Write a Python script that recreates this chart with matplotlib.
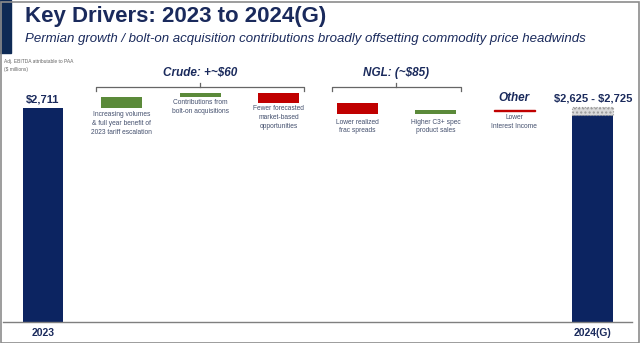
import matplotlib
matplotlib.use("Agg")
import matplotlib.pyplot as plt
from matplotlib.transforms import blended_transform_factory
from matplotlib.patches import Rectangle
from matplotlib.lines import Line2D

plt.rcParams['font.family'] = ['Liberation Sans', 'DejaVu Sans']

# ---- data ----
categories = ["2023", "Increasing volumes\n& full year benefit of\n2023 tariff escalation",
              "Contributions from\nbolt-on acquisitions",
              "Fewer forecasted\nmarket-based\nopportunities",
              "Lower realized\nfrac spreads", "Higher C3+ spec\nproduct sales",
              "Lower\nInterest Income", "2024(G)"]
start_value = 2711
changes = [140, 50, -130, -135, 50, -10]
guide_low = 2625
guide_high = 2725
group_labels = ["Crude: +~\\$60", "NGL: (~\\$85)", "Other"]
group_members = [(1, 3), (4, 5), (6, 6)]

NAVY = "#0c2461"
GREEN = "#5b8a3a"
RED = "#c00000"
TXT = "#1a2a5c"
SUB = "#44506e"

W, H = 640, 343
fig = plt.figure(figsize=(6.4, 3.43), dpi=100)

def fy(y):
    return 1 - y / H

ax = fig.add_axes([3 / W, 21 / H, 629 / W, 262 / H])
ymax = 262 * (start_value / 214.0)
ax.set_ylim(0, ymax)
ax.set_xlim(-0.51, 7.5)
for s in ["top", "right", "left"]:
    ax.spines[s].set_visible(False)
ax.spines["bottom"].set_color("#7f7f7f")
ax.spines["bottom"].set_linewidth(1.0)
ax.set_yticks([])
ax.set_xticks([0, 7])
ax.set_xticklabels([categories[0], categories[7]], fontsize=7.5, fontweight="bold", color=TXT)
ax.tick_params(axis="x", length=0, pad=4)

bw = 0.52
# starting bar
ax.bar(0, start_value, width=bw, color=NAVY)
# waterfall steps
level = start_value
for i, c in enumerate(changes):
    x = i + 1
    color = GREEN if c > 0 else RED
    if i == len(changes) - 1:
        ax.bar(x, c, bottom=level, width=bw, color=color, edgecolor=color, linewidth=1.0)
    else:
        ax.bar(x, c, bottom=level, width=bw, color=color)
    level += c
# end bar
ax.bar(7, guide_low, width=bw, color=NAVY)
ax.bar(7, guide_high - guide_low, bottom=guide_low, width=bw, color="#d9d9d9",
       edgecolor="#9a9a9a", linestyle=":", linewidth=0.8, hatch="....")

# value labels
ax.text(0, start_value + 40, f"\\${start_value:,}", ha="center", va="bottom",
        fontsize=8, fontweight="bold", color=TXT)
ax.text(7, guide_high + 45, f"\\${guide_low:,} - \\${guide_high:,}", ha="center", va="bottom",
        fontsize=8, fontweight="bold", color=TXT)

tr = blended_transform_factory(ax.transData, fig.transFigure)

# step description labels (y of first line centre, in pixels)
label_y = [None, 115, 103, 109, 122, 122, 118]
for i in range(1, 7):
    ax.text(i, fy(label_y[i] - 3.5), categories[i], transform=tr, ha="center", va="top",
            fontsize=4.8, color=SUB, linespacing=1.35)

# group headers and brackets
head_y = [73, 73, 98]
for (a, b), lab, hy in zip(group_members, group_labels, head_y):
    cx = (a + b) / 2
    ax.text(cx, fy(hy), lab, transform=tr, ha="center", va="center", fontsize=8.5,
            fontweight="bold", fontstyle="italic", color=TXT)
    if b > a:
        x0, x1 = a - 0.32, b + 0.32
        by = fy(87)
        lo = fy(91)
        hi = fy(83)
        ln = Line2D([x0, x0, x1, x1], [lo, by, by, lo], transform=tr, color="#666666", lw=0.9)
        ax.add_line(ln)
        ln2 = Line2D([cx, cx], [by, hi], transform=tr, color="#666666", lw=0.9)
        ax.add_line(ln2)
        ln.set_clip_on(False)
        ln2.set_clip_on(False)

# header
fig.patches.append(Rectangle((0, fy(53)), 11 / W, 53 / H, transform=fig.transFigure,
                             color="#0e2a55", zorder=0))
fig.text(25 / W, fy(16.5), "Key Drivers: 2023 to 2024(G)", ha="left", va="center",
         fontsize=16, fontweight="bold", color=TXT)
fig.text(25 / W, fy(39), "Permian growth / bolt-on acquisition contributions broadly offsetting commodity price headwinds",
         ha="left", va="center", fontsize=9.5, fontstyle="italic", color=TXT)
fig.text(4 / W, fy(62), "Adj. EBITDA attributable to PAA", ha="left", va="center",
         fontsize=3.5, color="#666666")
fig.text(4 / W, fy(69), "(\\$ millions)", ha="left", va="center", fontsize=3.5, color="#666666")

# frame
fig.patches.append(Rectangle((0.5 / W, 0.5 / H), (W - 2) / W, (H - 2) / H, transform=fig.transFigure,
                             fill=False, edgecolor="#8c8c8c", lw=1.2))

fig.savefig("out.png", dpi=100)
